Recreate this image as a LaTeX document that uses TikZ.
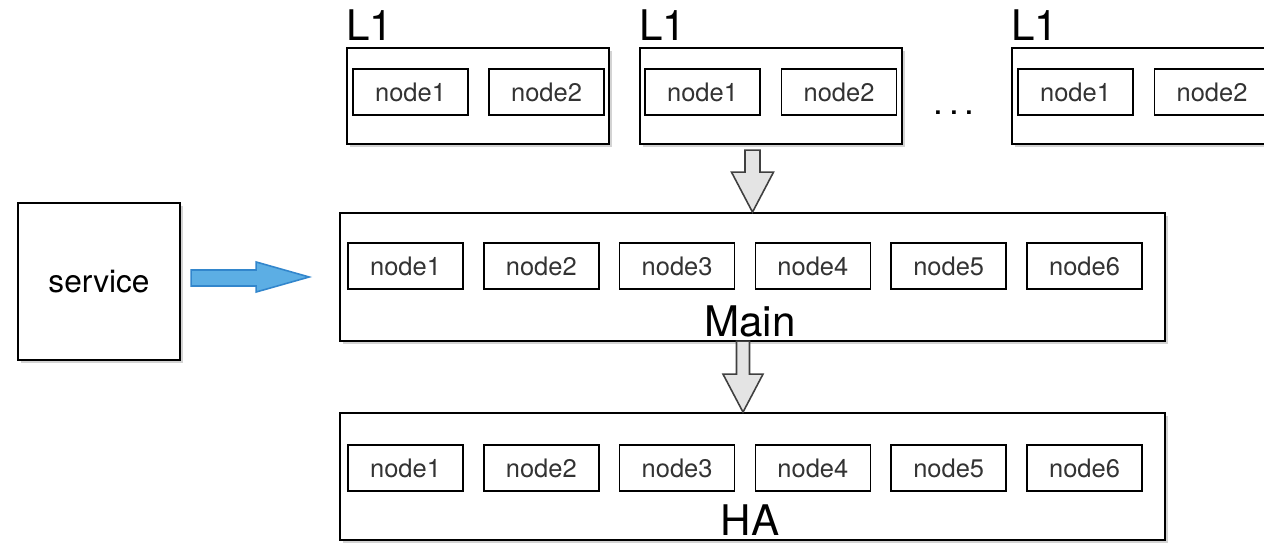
\documentclass[tikz,border=0pt]{standalone}
\usepackage{fontspec}
\setmainfont{TeX Gyre Heros}
\usetikzlibrary{shadows,calc}

\definecolor{arrowgray}{RGB}{228,228,228}
\definecolor{arrowblue}{RGB}{92,174,228}
\definecolor{blueedge}{RGB}{50,134,204}

\tikzset{
  box/.style={draw, line width=1pt, fill=white, inner sep=0,
    drop shadow={shadow xshift=1.5pt, shadow yshift=-1.5pt, opacity=0.35}},
  member/.style={draw, line width=0.9pt, fill=white, inner sep=0,
    minimum width=2.3cm, minimum height=0.92cm,
    font=\fontsize{14.5}{16}\selectfont, text=black!80},
  bigtext/.style={font=\fontsize{24}{26}\selectfont, inner sep=0},
  blockarrow/.style={draw=black!75, line width=0.9pt, fill=arrowgray, line join=miter},
  bluearrow/.style={draw=blueedge, line width=0.9pt, fill=arrowblue, line join=miter},
}

\begin{document}
\begin{tikzpicture}[x=0.02cm, y=-0.02cm]
  \useasboundingbox (0,0) rectangle (1264,543);
  \clip (0,0) rectangle (1264,543);

  % L1 groups
  \node[box, minimum width=5.24cm, minimum height=1.92cm] (l1a) at (478,96) {};
  \node[box, minimum width=5.24cm, minimum height=1.92cm] (l1b) at (771,96) {};
  \node[box, minimum width=5.24cm, minimum height=1.92cm] (l1c) at (1143,96) {};
  \foreach \g/\xa/\xb in {l1a/410.5/546.5, l1b/702.5/839, l1c/1075.5/1212} {
    \node[member] (\g-1) at (\xa,92) {node1};
    \node[member] (\g-2) at (\xb,92) {node2};
    \node[bigtext, anchor=south west] (\g-label) at ($(\g.north west)+(0,-6)$) {L1};
  }
  \node[font=\fontsize{20}{22}\selectfont, inner sep=0, anchor=base] (dots) at (954,115) {.\,.\,.};

  % service
  \node[box, minimum width=3.24cm, minimum height=3.14cm,
    font=\fontsize{18}{20}\selectfont] (service) at (99,281.5) {service};

  % Main and HA
  \node[box, minimum width=16.5cm, minimum height=2.56cm] (main) at (752.5,277) {};
  \node[box, minimum width=16.5cm, minimum height=2.54cm] (ha) at (752.5,476.5) {};
  \foreach \i in {1,...,6} {
    \node[member] (main-\i) at ({405.5+135.8*(\i-1)},266) {node\i};
    \node[member] (ha-\i) at ({405.5+135.8*(\i-1)},468) {node\i};
  }
  \node[bigtext, anchor=base] (main-label) at (750,337) {Main};
  \node[bigtext, anchor=base] (ha-label) at (750,536) {HA};

  % arrows
  \draw[blockarrow] (main.north) -- ++(-21,-40) -- ++(13.5,0) -- ++(0,-22)
    -- ++(15,0) -- ++(0,22) -- ++(13.5,0) -- cycle;
  \draw[blockarrow] ($(ha.north)+(-9.5,0)$) -- ++(-20,-38) -- ++(13.5,0) -- ++(0,-33)
    -- ++(13,0) -- ++(0,33) -- ++(13.5,0) -- cycle;
  \draw[bluearrow] ($(main.west)+(-30,0)$) -- ++(-53,-15) -- ++(0,8) -- ++(-65,0)
    -- ++(0,16) -- ++(65,0) -- ++(0,6) -- cycle;
\end{tikzpicture}
\end{document}
